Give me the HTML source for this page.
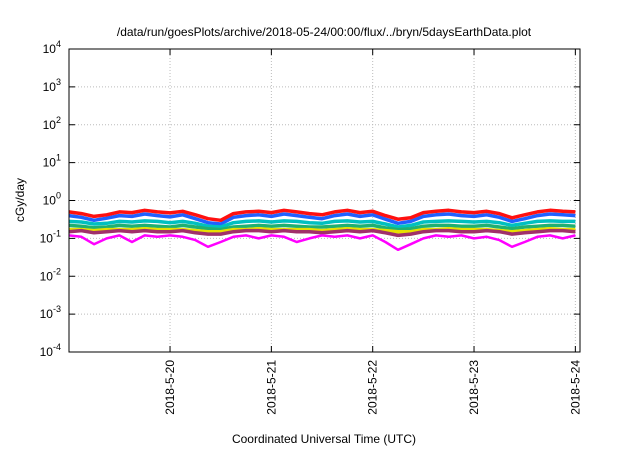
<!DOCTYPE html>
<html><head><meta charset="utf-8"><style>
body{margin:0;background:#fff;}
svg text{font-family:"Liberation Sans",sans-serif;fill:#000;}
</style></head><body>
<svg id="chart" width="640" height="448">
<text x="324" y="36" font-size="12" text-anchor="middle">/data/run/goesPlots/archive/2018-05-24/00:00/flux/../bryn/5daysEarthData.plot</text>
<g id="grid"></g><g id="series"></g><g id="axes"></g>
<text x="324" y="443" font-size="12" text-anchor="middle">Coordinated Universal Time (UTC)</text>
<text transform="translate(24,200) rotate(-90)" font-size="12" text-anchor="middle">cGy/day</text>
</svg>
<script>
const hours=[0,3,6,9,12,15,18,21,24,27,30,33,36,39,42,45,48,51,54,57,60,63,66,69,72,75,78,81,84,87,90,93,96,99,102,105,108,111,114,117,120];
const redVals=[0.5,0.45,0.38,0.42,0.5,0.48,0.55,0.5,0.47,0.52,0.42,0.33,0.3,0.45,0.5,0.52,0.48,0.55,0.5,0.45,0.42,0.5,0.55,0.48,0.52,0.4,0.32,0.35,0.48,0.52,0.55,0.5,0.48,0.52,0.45,0.35,0.42,0.5,0.55,0.52,0.5];
const blueVals=[0.4,0.36,0.3,0.34,0.4,0.38,0.44,0.4,0.37,0.42,0.33,0.26,0.24,0.36,0.4,0.42,0.38,0.44,0.4,0.36,0.33,0.4,0.44,0.38,0.42,0.32,0.25,0.28,0.38,0.42,0.44,0.4,0.38,0.42,0.36,0.28,0.33,0.4,0.44,0.42,0.4];
const cyanVals=[0.28,0.27,0.24,0.25,0.28,0.27,0.29,0.28,0.26,0.28,0.25,0.21,0.2,0.26,0.28,0.29,0.27,0.29,0.28,0.26,0.25,0.28,0.29,0.27,0.28,0.24,0.2,0.22,0.27,0.28,0.29,0.28,0.27,0.28,0.26,0.22,0.25,0.28,0.29,0.28,0.28];
const greenVals=[0.22,0.21,0.19,0.2,0.22,0.21,0.22,0.21,0.2,0.22,0.2,0.18,0.17,0.2,0.21,0.22,0.21,0.22,0.21,0.2,0.2,0.21,0.22,0.21,0.22,0.19,0.17,0.18,0.21,0.22,0.22,0.21,0.21,0.22,0.2,0.18,0.2,0.21,0.22,0.22,0.21];
const yellowVals=[0.17,0.17,0.16,0.17,0.17,0.17,0.18,0.17,0.17,0.17,0.16,0.15,0.15,0.17,0.17,0.18,0.17,0.17,0.17,0.17,0.16,0.17,0.18,0.17,0.17,0.16,0.15,0.15,0.17,0.17,0.18,0.17,0.17,0.17,0.16,0.15,0.16,0.17,0.18,0.17,0.17];
const purpleVals=[0.15,0.16,0.14,0.15,0.16,0.15,0.16,0.15,0.15,0.16,0.14,0.13,0.13,0.15,0.16,0.16,0.15,0.16,0.15,0.15,0.14,0.15,0.16,0.15,0.16,0.14,0.12,0.13,0.15,0.16,0.16,0.15,0.15,0.16,0.15,0.13,0.14,0.15,0.16,0.16,0.15];
const magentaVals=[0.12,0.11,0.07,0.1,0.12,0.08,0.12,0.11,0.12,0.11,0.09,0.06,0.08,0.11,0.12,0.1,0.12,0.11,0.08,0.1,0.12,0.11,0.12,0.1,0.12,0.08,0.05,0.07,0.1,0.12,0.11,0.12,0.1,0.11,0.09,0.06,0.08,0.11,0.12,0.1,0.12];
const seriesList=[["magenta",magentaVals,"#ff00ff"],["purple",purpleVals,"#a0306a"],["yellow",yellowVals,"#e8e000"],["green",greenVals,"#20b070"],["cyan",cyanVals,"#00c0c0"],["red",redVals,"#ff1010"],["blue",blueVals,"#2060ff"]];
const xTickLabels=["2018-5-20","2018-5-21","2018-5-22","2018-5-23","2018-5-24"];
const xTickHours=[24,48,72,96,120];
const yExps=[-4,-3,-2,-1,0,1,2,3,4];
const L=69,R=580,T=49,B=352;
const H0=0.07,H1=121.1;
const x=h=>L+(h-H0)*(R-L)/(H1-H0);
const y=v=>B-(Math.log10(v)+4)*(B-T)/8;
const NS="http://www.w3.org/2000/svg";
function mk(t,a,p){const e=document.createElementNS(NS,t);for(const k in a)e.setAttribute(k,a[k]);p.appendChild(e);return e;}
const grid=document.getElementById('grid'),ax=document.getElementById('axes'),sg=document.getElementById('series');
yExps.forEach(p=>{const yy=y(Math.pow(10,p));
 if(p>-4&&p<4){const g=mk('line',{x1:L,x2:R,y1:yy,y2:yy,stroke:'#bbb','stroke-dasharray':'1,2'},grid);
 
 }
 const t=mk('text',{x:L-8,y:yy+4,'font-size':12,'text-anchor':'end'},ax);
 
 
 t.textContent='10';const s=mk('tspan',{dy:-6,'font-size':9},t);s.textContent=p;
 mk('line',{x1:L,x2:L+6,y1:yy,y2:yy,stroke:'#000'},ax);mk('line',{x1:R,x2:R-6,y1:yy,y2:yy,stroke:'#000'},ax);
});
xTickHours.forEach((h,i)=>{const xx=x(h);
 const g=mk('line',{x1:xx,x2:xx,y1:T,y2:B,stroke:'#bbb','stroke-dasharray':'1,2'},grid);
 
 
 mk('line',{x1:xx,x2:xx,y1:B,y2:B-6,stroke:'#000'},ax);mk('line',{x1:xx,x2:xx,y1:T,y2:T+6,stroke:'#000'},ax);
 const t=mk('text',{transform:`translate(${xx+4},${B+8}) rotate(-90)`,'font-size':12,'text-anchor':'end'},ax);
 
 
 t.textContent=xTickLabels[i];
});
const fr=mk('rect',{x:L,y:T,width:R-L,height:B-T,fill:'none',stroke:'#000'},ax);


seriesList.slice().reverse().forEach(([n,vals,c])=>{
 const pts=vals.map((v,i)=>x(hours[i]).toFixed(1)+','+y(v).toFixed(1)).join(' ');
 const pl=mk('polyline',{points:pts,fill:'none',stroke:c,'stroke-width':n==='magenta'?2.5:3.5,'stroke-linejoin':'round'},sg);
 
 
});
</script>
</body></html>
